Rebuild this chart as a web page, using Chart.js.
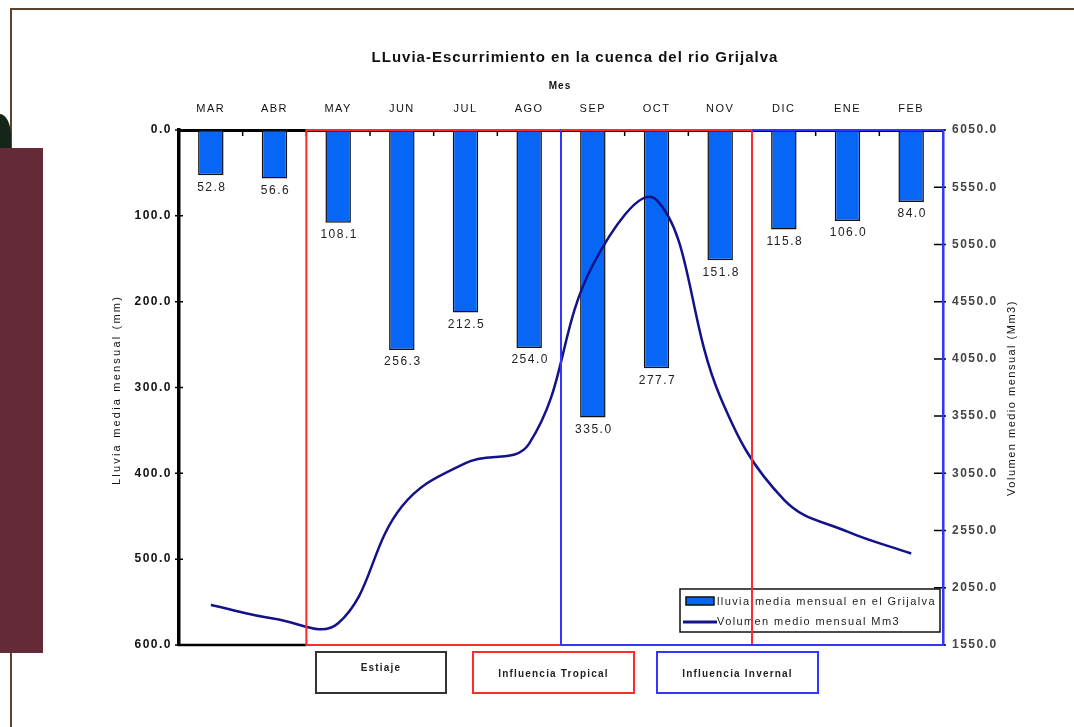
<!DOCTYPE html>
<html>
<head>
<meta charset="utf-8">
<script src="https://cdn.jsdelivr.net/npm/chart.js@4/dist/chart.umd.min.js"></script>
<style>
html,body{margin:0;padding:0;background:#fff;width:1074px;height:727px;overflow:hidden;}
#wrap{position:relative;width:1074px;height:727px;background:#fff;}
.frameTop{position:absolute;left:10px;top:8px;width:1064px;height:2px;background:#5b4330;}
.frameLeft{position:absolute;left:10px;top:8px;width:2px;height:719px;background:#5b4330;}
.green{position:absolute;left:0;top:114px;width:11px;height:34px;background:#15251a;border-top-right-radius:11px 22px;}
.maroon{position:absolute;left:0;top:148px;width:43px;height:505px;background:#652a37;}
canvas{position:absolute;left:0;top:0;}
</style>
</head>
<body>
<div id="wrap">
  <div class="frameTop"></div>
  <div class="frameLeft"></div>
  <div class="green"></div>
  <div class="maroon"></div>
  <canvas id="c" width="1074" height="727"></canvas>
</div>
<script>
// ---- data ----
const months = ['MAR','ABR','MAY','JUN','JUL','AGO','SEP','OCT','NOV','DIC','ENE','FEB'];
const rainfall = [52.8, 56.6, 108.1, 256.3, 212.5, 254.0, 335.0, 277.7, 151.8, 115.8, 106.0, 84.0];
const volume = [1900, 1780, 1740, 2760, 3140, 3310, 4870, 5440, 3720, 2820, 2540, 2350];
const rainTicks = [0, 100, 200, 300, 400, 500, 600];
const volumeTicks = [1550, 2050, 2550, 3050, 3550, 4050, 4550, 5050, 5550, 6050];

const titleText = 'LLuvia-Escurrimiento en la cuenca del rio Grijalva';
const xTitle = 'Mes';
const yTitle = 'Lluvia media mensual (mm)';
const y1Title = 'Volumen medio mensual (Mm3)';
const legendRain = 'lluvia media mensual en el Grijalva';
const legendVol = 'Volumen medio mensual Mm3';
const periodLabels = ['Estiaje', 'Influencia Tropical', 'Influencia Invernal'];

const FONT = '"Liberation Sans", Arial, sans-serif';
const BAR_BLUE = '#0866f6';
const LINE_NAVY = '#12128a';
const RED = '#ff2a2a';
const BLUE = '#3434ff';

const decor = {
  id: 'decor',
  beforeDraw(chart) {
    chart.ctx.letterSpacing = '1.5px';
  },
  afterDatasetsDraw(chart) {
    const ctx = chart.ctx;
    const a = chart.chartArea;
    const meta = chart.getDatasetMeta(0);
    ctx.save();
    // data labels under bars
    ctx.letterSpacing = '1.5px';
    ctx.font = '12px ' + FONT;
    ctx.fillStyle = '#222';
    ctx.textAlign = 'center';
    ctx.textBaseline = 'top';
    meta.data.forEach((bar, i) => {
      ctx.fillText(rainfall[i].toFixed(1), bar.x + 1, bar.y + 6);
    });
    // legend
    const lx = a.right - 263, ly = a.bottom - 56, lw = 260, lh = 43;
    ctx.fillStyle = '#fff';
    ctx.fillRect(lx, ly, lw, lh);
    ctx.lineWidth = 1.5;
    ctx.strokeStyle = '#111';
    ctx.strokeRect(lx, ly, lw, lh);
    ctx.fillStyle = BAR_BLUE;
    ctx.fillRect(lx + 6, ly + 8, 28, 8);
    ctx.strokeRect(lx + 6, ly + 8, 28, 8);
    ctx.strokeStyle = LINE_NAVY;
    ctx.lineWidth = 3;
    ctx.beginPath();
    ctx.moveTo(lx + 3, ly + 33);
    ctx.lineTo(lx + 37, ly + 33);
    ctx.stroke();
    ctx.fillStyle = '#222';
    ctx.textAlign = 'left';
    ctx.textBaseline = 'middle';
    ctx.letterSpacing = '1.4px';
    ctx.font = '11px ' + FONT;
    ctx.fillText(legendRain, lx + 37, ly + 13);
    ctx.fillText(legendVol, lx + 37, ly + 33);
    ctx.restore();
  },
  afterDraw(chart) {
    const ctx = chart.ctx;
    const a = chart.chartArea;
    const x = chart.scales.x, y = chart.scales.y, y1 = chart.scales.y1;
    const half = (x.getPixelForValue(1) - x.getPixelForValue(0)) / 2;
    ctx.save();
    // titles
    ctx.fillStyle = '#111';
    ctx.textAlign = 'center';
    ctx.textBaseline = 'middle';
    ctx.letterSpacing = '1px';
    ctx.font = 'bold 15px ' + FONT;
    ctx.fillText(titleText, 575, 58);
    ctx.font = 'bold 10px ' + FONT;
    ctx.fillText(xTitle, 560, 86);
    ctx.letterSpacing = '2.2px';
    ctx.font = '11px ' + FONT;
    ctx.save();
    ctx.translate(117, 390);
    ctx.rotate(-Math.PI / 2);
    ctx.fillText(yTitle, 0, 0);
    ctx.restore();
    ctx.letterSpacing = '1.5px';
    ctx.save();
    ctx.translate(1012, 398);
    ctx.rotate(-Math.PI / 2);
    ctx.fillText(y1Title, 0, 0);
    ctx.restore();

    // tick marks
    ctx.strokeStyle = '#000';
    ctx.lineWidth = 1.5;
    ctx.beginPath();
    for (let i = 0; i < months.length - 1; i++) {
      const px = x.getPixelForValue(i) + half;
      ctx.moveTo(px, a.top);
      ctx.lineTo(px, a.top + 6);
    }
    rainTicks.forEach(v => {
      const py = y.getPixelForValue(v);
      ctx.moveTo(a.left - 4, py);
      ctx.lineTo(a.left + 4, py);
    });
    volumeTicks.forEach(v => {
      const py = y1.getPixelForValue(v);
      ctx.moveTo(a.right - 9, py);
      ctx.lineTo(a.right + 3, py);
    });
    ctx.stroke();

    // bottom black edge
    const redL = x.getPixelForValue(1) + half;
    const redR = x.getPixelForValue(8) + half;
    const blueL = x.getPixelForValue(5) + half;
    ctx.lineWidth = 2.5;
    ctx.beginPath();
    ctx.moveTo(a.left - 1, a.bottom);
    ctx.lineTo(redL, a.bottom);
    ctx.stroke();

    // period boxes
    ctx.lineWidth = 2;
    ctx.strokeStyle = RED;
    ctx.strokeRect(redL, a.top, redR - redL, a.bottom - a.top);
    ctx.strokeStyle = BLUE;
    ctx.strokeRect(blueL, a.top, a.right - blueL, a.bottom - a.top);
    ctx.strokeStyle = RED;
    ctx.beginPath();
    ctx.moveTo(blueL, a.top);
    ctx.lineTo(redR, a.top);
    ctx.stroke();

    // period legend boxes below
    const boxes = [
      {x: 316, w: 130, color: '#333', ty: 668},
      {x: 473, w: 161, color: RED, ty: 674},
      {x: 657, w: 161, color: BLUE, ty: 674}
    ];
    ctx.letterSpacing = '1.2px';
    ctx.font = 'bold 10px ' + FONT;
    ctx.fillStyle = '#222';
    boxes.forEach((b, i) => {
      ctx.strokeStyle = b.color;
      ctx.lineWidth = 2;
      ctx.strokeRect(b.x, 652, b.w, 41);
      ctx.fillText(periodLabels[i], b.x + b.w / 2, b.ty);
    });
    ctx.restore();
  }
};

new Chart(document.getElementById('c'), {
  type: 'bar',
  data: {
    labels: months,
    datasets: [
      {
        type: 'bar',
        label: legendRain,
        data: rainfall,
        yAxisID: 'y',
        backgroundColor: BAR_BLUE,
        borderColor: '#111',
        borderWidth: 1.5,
        borderSkipped: false,
        barPercentage: 0.4,
        categoryPercentage: 1.0,
        order: 2
      },
      {
        type: 'line',
        label: legendVol,
        data: volume,
        yAxisID: 'y1',
        borderColor: LINE_NAVY,
        borderWidth: 2.5,
        pointRadius: 0,
        tension: 0.4,
        fill: false,
        order: 1
      }
    ]
  },
  options: {
    responsive: false,
    animation: false,
    layout: {padding: {top: 0, left: 0, right: 0, bottom: 82}},
    plugins: {
      legend: {display: false},
      title: {display: false},
      tooltip: {enabled: false}
    },
    scales: {
      x: {
        type: 'category',
        position: 'top',
        offset: true,
        grid: {display: false, drawTicks: false},
        border: {display: true, color: '#000', width: 3},
        ticks: {
          autoSkip: false, maxRotation: 0, padding: 14,
          color: '#111', font: {family: FONT, size: 11}
        },
        afterFit(s) { s.height = 130; }
      },
      y: {
        position: 'left',
        reverse: true,
        min: 0, max: 600,
        grid: {display: false, drawTicks: false},
        border: {display: true, color: '#000', width: 3.5},
        afterBuildTicks(s) { s.ticks = rainTicks.map(v => ({value: v})); },
        ticks: {
          padding: 7,
          color: '#111',
          font: {family: FONT, size: 12, weight: 'bold'},
          callback: v => Number(v).toFixed(1)
        },
        afterFit(s) { s.width = 179; }
      },
      y1: {
        position: 'right',
        min: 1550, max: 6050,
        grid: {display: false, drawTicks: false},
        border: {display: true, color: '#2a2ae8', width: 2.5},
        afterBuildTicks(s) { s.ticks = volumeTicks.map(v => ({value: v})); },
        ticks: {
          padding: 9,
          color: '#444',
          font: {family: FONT, size: 12, weight: 'bold'},
          callback: v => Number(v).toFixed(1)
        },
        afterFit(s) { s.width = 131; }
      }
    }
  },
  plugins: [decor]
});
</script>
</body>
</html>
